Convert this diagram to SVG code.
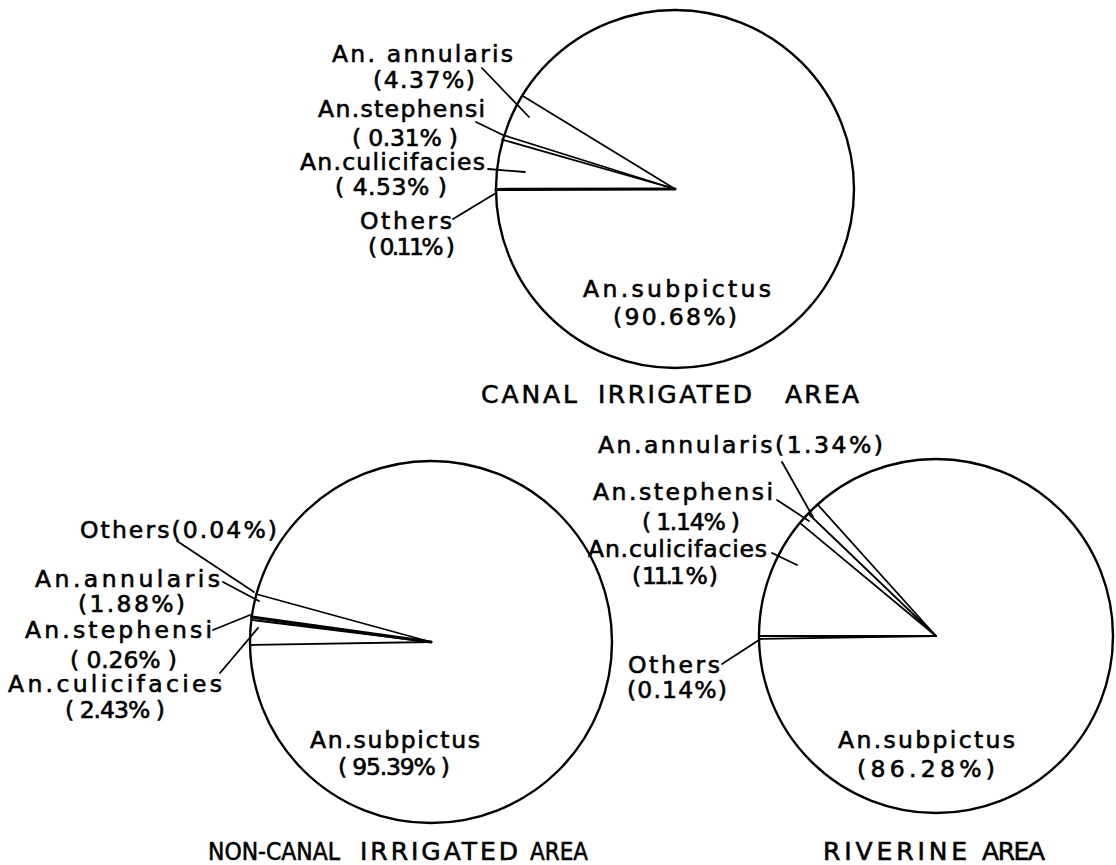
<svg xmlns="http://www.w3.org/2000/svg" width="1116" height="865" viewBox="0 0 1116 865">
<style>
.rim{fill:none;stroke:#000;stroke-width:2.4}
.seg{stroke:#000;stroke-width:1.8;stroke-linecap:round;fill:none}
.thick{stroke:#000;stroke-width:3.2;stroke-linecap:round;fill:none}
.lead{stroke:#000;stroke-width:1.8;stroke-linecap:round;fill:none}
text{font-family:"DejaVu Sans","Liberation Sans",sans-serif;fill:#000;stroke:#000;stroke-width:0.6}
.lbl{font-size:23.5px}
.ttl{font-size:25px}
</style>
<rect width="1116" height="865" fill="#fff"/>

<g id="pie-canal">
<circle class="rim" cx="675" cy="189" r="179"/>
<line class="thick" x1="675" y1="189" x2="496" y2="189.5"/>
<line class="seg" x1="675" y1="189" x2="502.1" y2="139.6"/>
<line class="seg" x1="675" y1="189" x2="503.6" y2="135.2"/>
<line class="seg" x1="675" y1="189" x2="522" y2="95.5"/>
<text class="lbl" x="332" y="62" textLength="181" lengthAdjust="spacing">An. annularis</text>
<text class="lbl" x="373" y="88" textLength="102" lengthAdjust="spacing">(4.37%)</text>
<text class="lbl" x="318" y="117" textLength="167" lengthAdjust="spacing">An.stephensi</text>
<text class="lbl" x="352" y="146" textLength="106" lengthAdjust="spacing">( 0.31% )</text>
<text class="lbl" x="300" y="170" textLength="185" lengthAdjust="spacing">An.culicifacies</text>
<text class="lbl" x="335" y="195" textLength="112" lengthAdjust="spacing">( 4.53% )</text>
<text class="lbl" x="360" y="229" textLength="92" lengthAdjust="spacing">Others</text>
<text class="lbl" x="368" y="255" textLength="87" lengthAdjust="spacing">( 0.11% )</text>
<text class="lbl" x="583" y="297" textLength="188" lengthAdjust="spacing">An.subpictus</text>
<text class="lbl" x="613" y="325" textLength="124" lengthAdjust="spacing">(90.68%)</text>
<text class="ttl" y="403"><tspan x="481" textLength="96" lengthAdjust="spacing">CANAL</tspan> <tspan x="598" textLength="154" lengthAdjust="spacing">IRRIGATED</tspan> <tspan x="785" textLength="74" lengthAdjust="spacing">AREA</tspan></text>
</g>

<g id="pie-noncanal">
<circle class="rim" cx="431" cy="642" r="181"/>
<line class="seg" x1="431" y1="642" x2="250" y2="645"/>
<line class="seg" x1="431" y1="642" x2="251.4" y2="619.9"/>
<line class="thick" x1="431" y1="642" x2="251.8" y2="617"/>
<line class="seg" x1="431" y1="642" x2="256" y2="594"/>
<text class="lbl" x="80" y="538" textLength="197" lengthAdjust="spacing">Others(0.04%)</text>
<text class="lbl" x="35" y="587" textLength="185" lengthAdjust="spacing">An.annularis</text>
<text class="lbl" x="78" y="612" textLength="107" lengthAdjust="spacing">(1.88%)</text>
<text class="lbl" x="25" y="638" textLength="187" lengthAdjust="spacing">An.stephensi</text>
<text class="lbl" x="70" y="668" textLength="107" lengthAdjust="spacing">( 0.26% )</text>
<text class="lbl" x="8" y="692" textLength="214" lengthAdjust="spacing">An.culicifacies</text>
<text class="lbl" x="65" y="718" textLength="100" lengthAdjust="spacing">( 2.43% )</text>
<text class="lbl" x="310" y="748" textLength="170" lengthAdjust="spacing">An.subpictus</text>
<text class="lbl" x="338" y="775" textLength="112" lengthAdjust="spacing">( 95.39% )</text>
<text class="ttl" y="860"><tspan x="208" textLength="132" lengthAdjust="spacingAndGlyphs">NON-CANAL</tspan> <tspan x="360" textLength="158" lengthAdjust="spacing">IRRIGATED</tspan> <tspan x="530" textLength="58" lengthAdjust="spacingAndGlyphs">AREA</tspan></text>
</g>

<g id="pie-riverine">
<circle class="rim" cx="936" cy="636" r="177"/>
<line class="seg" x1="936" y1="636" x2="759" y2="639"/>
<line class="seg" x1="936" y1="636" x2="759" y2="636"/>
<line class="seg" x1="936" y1="636" x2="799.8" y2="522.9"/>
<line class="seg" x1="936" y1="636" x2="808.2" y2="513.5"/>
<line class="seg" x1="936" y1="636" x2="817.6" y2="504.5"/>
<text class="lbl" x="598" y="453" textLength="285" lengthAdjust="spacing">An.annularis(1.34%)</text>
<text class="lbl" x="593" y="500" textLength="180" lengthAdjust="spacing">An.stephensi</text>
<text class="lbl" x="642" y="530" textLength="98" lengthAdjust="spacing">( 1.14% )</text>
<text class="lbl" x="588" y="557" textLength="179" lengthAdjust="spacing">An.culicifacies</text>
<text class="lbl" x="632" y="584" textLength="86" lengthAdjust="spacing">( 11.1 % )</text>
<text class="lbl" x="628" y="673" textLength="92" lengthAdjust="spacing">Others</text>
<text class="lbl" x="627" y="698" textLength="100" lengthAdjust="spacing">(0.14%)</text>
<text class="lbl" x="838" y="748" textLength="177" lengthAdjust="spacing">An.subpictus</text>
<text class="lbl" x="857" y="777" textLength="138" lengthAdjust="spacing">(86.28%)</text>
<text class="ttl" y="860"><tspan x="823" textLength="144" lengthAdjust="spacing">RIVERINE</tspan> <tspan x="982" textLength="63" lengthAdjust="spacing">AREA</tspan></text>
</g>

<g id="connectors">
<line class="lead" x1="482" y1="68" x2="529" y2="117"/>
<line class="lead" x1="476" y1="122" x2="505" y2="136"/>
<line class="lead" x1="488" y1="169" x2="525" y2="172"/>
<line class="lead" x1="453" y1="219" x2="496" y2="193"/>
<line class="lead" x1="177" y1="541" x2="254" y2="592"/>
<line class="lead" x1="223" y1="582" x2="259" y2="601"/>
<line class="lead" x1="213" y1="630" x2="250" y2="615"/>
<line class="lead" x1="220" y1="673" x2="258" y2="628"/>
<line class="lead" x1="782" y1="462" x2="813" y2="517"/>
<line class="lead" x1="777" y1="500" x2="809" y2="521"/>
<line class="lead" x1="772" y1="553" x2="797" y2="565"/>
<line class="lead" x1="722" y1="664" x2="759" y2="640"/>
</g>
</svg>
